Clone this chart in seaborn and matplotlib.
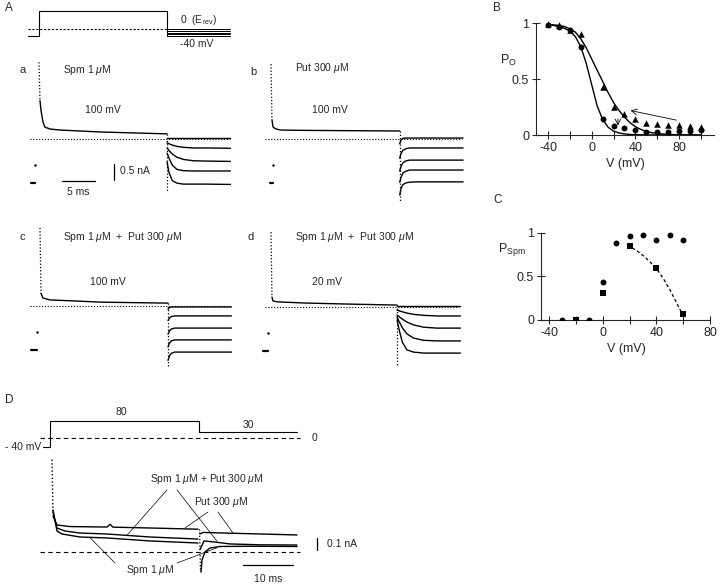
import numpy as np
import matplotlib
matplotlib.use('Agg')
import matplotlib.pyplot as plt
import seaborn as sns

W, H = 720, 587

# ---- B: open probability vs voltage (triangles / circles) and fitted curves
b_volt = [-40, -30, -20, -10, 10, 20, 30, 40, 50, 60, 70, 80, 90, 100]
b_tri = [0.99, 0.985, 0.94, 0.90, 0.43, 0.25, 0.185, 0.14, 0.11, 0.10, 0.085, 0.085, 0.08, 0.075]
b_circ = [0.985, 0.965, 0.935, 0.79, 0.14, 0.08, 0.065, 0.045, 0.03, 0.027, 0.027, 0.033, 0.04, 0.048]
fit_volt = [-40, -35, -30, -25, -20, -15, -10, -5, 0, 5, 10, 15, 20, 25, 30, 35, 40, 45, 50, 55, 60, 70, 80, 100]
fit_steep = [0.985, 0.98, 0.97, 0.955, 0.93, 0.88, 0.79, 0.64, 0.45, 0.26, 0.14, 0.07, 0.035, 0.018,
             0.01, 0.005, 0.003, 0.002, 0.001, 0, 0, 0, 0, 0]
fit_shallow = [0.99, 0.985, 0.98, 0.97, 0.95, 0.92, 0.86, 0.78, 0.68, 0.58, 0.48, 0.38, 0.29, 0.22,
               0.16, 0.11, 0.075, 0.05, 0.032, 0.02, 0.013, 0.005, 0.002, 0]

# ---- C: P_Spm vs voltage
c_circ_v = [-30, -10, 0, 10, 20, 30, 40, 50, 60]
c_circ = [0, 0, 0.44, 0.88, 0.96, 0.97, 0.92, 0.97, 0.92]
c_sq_v = [-20, 0, 20, 40, 60]
c_sq = [0, 0.31, 0.85, 0.60, 0.065]
c_fit_v = [22, 25, 30, 35, 40, 45, 50, 55, 60]
c_fit = [0.825, 0.80, 0.74, 0.67, 0.59, 0.48, 0.35, 0.20, 0.05]

# ---- A protocol (ms, mV)
prot_t = [-1.7, 0, 0, 19.4, 19.4]
prot_v = [-40, -40, 100, 100, 0]
tail_volts = [0, -10, -20, -30, -40]

# ---- A traces (ms, nA); tails start at the end of the step
tail_t_slow = [0, 0.3, 0.8, 1.5, 2.5, 4, 6, 9.6]
tail_t_fast = [0, 0.2, 0.5, 1.0, 1.5, 2.5, 4, 9.6]

a_step_t = [0.15, 0.3, 0.6, 0.9, 1.7, 3.2, 9.2, 19.4]
a_step_i = [1.2, 0.9, 0.53, 0.37, 0.31, 0.28, 0.22, 0.16]
a_tails = [[0.03, 0.03, 0.03, 0.03, 0.03, 0.03, 0.03, 0.03],
           [-0.12, -0.15, -0.19, -0.23, -0.26, -0.28, -0.28, -0.29],
           [-0.28, -0.36, -0.47, -0.57, -0.64, -0.68, -0.69, -0.70],
           [-0.44, -0.60, -0.82, -0.95, -0.99, -1.00, -1.00, -1.00],
           [-0.72, -1.05, -1.30, -1.38, -1.41, -1.41, -1.41, -1.42]]

b_step_t = [0.15, 0.3, 0.6, 1.0, 1.5, 5, 12, 19.5]
b_step_i = [0.6, 0.38, 0.33, 0.30, 0.28, 0.27, 0.26, 0.25]
b_tails = [[-0.15, -0.03, 0.02, 0.03, 0.03, 0.03, 0.03, 0.03],
           [-0.60, -0.45, -0.35, -0.30, -0.28, -0.28, -0.28, -0.28],
           [-1.00, -0.85, -0.74, -0.68, -0.66, -0.66, -0.66, -0.66],
           [-1.35, -1.20, -1.06, -1.00, -0.97, -0.97, -0.97, -0.97],
           [-1.75, -1.55, -1.42, -1.37, -1.35, -1.34, -1.34, -1.34]]

c_step_t = [0.15, 0.45, 1.5, 5, 9.2, 19.4]
c_step_i = [0.4, 0.25, 0.19, 0.16, 0.12, 0.09]
c_tails = [[-0.10, -0.05, -0.03, -0.03, -0.03, -0.03, -0.03, -0.03],
           [-0.45, -0.38, -0.33, -0.31, -0.31, -0.31, -0.31, -0.31],
           [-0.88, -0.78, -0.72, -0.69, -0.69, -0.69, -0.69, -0.69],
           [-1.28, -1.16, -1.09, -1.06, -1.06, -1.06, -1.06, -1.06],
           [-1.70, -1.56, -1.48, -1.44, -1.44, -1.44, -1.44, -1.44]]

d_step_t = [0.15, 0.3, 1.0, 5, 12, 19.1]
d_step_i = [0.31, 0.19, 0.16, 0.125, 0.09, 0.06]
d_tails = [[0.02, 0.02, 0.02, 0.02, 0.02, 0.02, 0.02, 0.02],
           [-0.10, -0.12, -0.15, -0.19, -0.23, -0.26, -0.28, -0.28],
           [-0.25, -0.30, -0.38, -0.47, -0.56, -0.63, -0.66, -0.66],
           [-0.31, -0.45, -0.65, -0.84, -0.97, -1.04, -1.06, -1.06],
           [-0.40, -0.70, -1.10, -1.34, -1.41, -1.44, -1.44, -1.44]]

# ---- D protocol and currents
dprot_t = [-1.4, 0, 0, 29.8, 29.8, 49.4]
dprot_v = [-40, -40, 80, 80, 30, 30]

put_t = [0.6, 1.4, 4, 11.4, 12.0, 12.6, 20, 29.6]
put_i = [0.30, 0.225, 0.212, 0.208, 0.23, 0.207, 0.20, 0.19]
put_tail_t = [30, 30.6, 35, 49.4]
put_tail_i = [0.15, 0.163, 0.158, 0.142]

mix_t = [0.6, 1.4, 3, 6, 11.4, 20, 29.6]
mix_i = [0.33, 0.20, 0.175, 0.158, 0.15, 0.125, 0.108]
mix_tail_t = [30, 30.8, 33, 36, 42, 49.4]
mix_tail_i = [0.02, 0.092, 0.083, 0.067, 0.06, 0.058]

spm_t = [0.6, 1.4, 2.4, 6, 11.4, 20, 29.6]
spm_i = [0.35, 0.175, 0.15, 0.125, 0.117, 0.092, 0.075]
spm_tail_t = [30.2, 30.4, 31, 32, 34, 40, 49.4]
spm_tail_i = [-0.167, -0.067, 0, 0.033, 0.046, 0.048, 0.046]

sns.set_style('ticks')
plt.rcParams['font.family'] = ['Liberation Sans', 'DejaVu Sans']
plt.rcParams['mathtext.fontset'] = 'custom'
plt.rcParams['mathtext.rm'] = 'Liberation Sans'
plt.rcParams['mathtext.it'] = 'Liberation Sans:italic'
plt.rcParams['mathtext.bf'] = 'Liberation Sans:bold'

fig = plt.figure(figsize=(7.2, 5.87), dpi=100)
DOT = (0, (1, 1.6))
LW = 1.0


def px_axes(x0, x1, y0, y1, ox, oy, sx, sy):
    # axes placed by pixel box; data units via origin (ox, oy) and px per unit
    ax = fig.add_axes([x0 / W, 1 - y1 / H, (x1 - x0) / W, (y1 - y0) / H])
    ax.set_xlim((x0 - ox) / sx, (x1 - ox) / sx)
    ax.set_ylim((oy - y1) / sy, (oy - y0) / sy)
    ax.axis('off')
    return ax


# overlay for panel letters and labels
ov = fig.add_axes([0, 0, 1, 1])
ov.set_xlim(0, W)
ov.set_ylim(H, 0)
ov.axis('off')
fs = 7.5
labels = [('A', 5, 8, 8.5), ('B', 493, 8, 8.5), ('C', 493, 200, 8.5), ('D', 5, 400, 8.5),
          ('a', 20, 70, 8), ('b', 250, 72, 8), ('c', 20, 237, 8), ('d', 248, 237, 8),
          ('0  (E$_{\\rm rev}$)', 180, 20, fs), ('-40 mV', 180, 44, fs),
          ('Spm 1 $\\mu$M', 63, 70, fs), ('100 mV', 85, 110, fs),
          ('Put 300 $\\mu$M', 295, 68, fs), ('100 mV', 312, 110, fs),
          ('Spm 1 $\\mu$M  +  Put 300 $\\mu$M', 63, 237, fs), ('100 mV', 90, 282, fs),
          ('Spm 1 $\\mu$M  +  Put 300 $\\mu$M', 295, 237, fs), ('20 mV', 312, 282, fs),
          ('P$_{\\rm O}$', 500, 60, 9), ('P$_{\\rm Spm}$', 498, 249, 9)]
for txt, x, y, s in labels:
    ov.text(x, y, txt, fontsize=s, ha='left', va='center')

# ---- A protocol
axp = px_axes(20, 245, 3, 45, 39, 29, 6.6, 0.178)
axp.plot(prot_t, prot_v, color='k', lw=0.8)
axp.plot([-1.7, 19.4], [0, 0], color='k', lw=0.8, ls=(0, (2, 1.5)))
axp.plot([19.4, 19.4], [0, -40], color='k', lw=0.8)
for v in tail_volts:
    axp.plot([19.4, 29], [v, v], color='k', lw=0.7)


def draw_panel(ax, peak, step_t, step_i, tail_t, tails, tail_low, base_x, mark_x):
    t_end = step_t[-1]
    ax.plot(base_x, [0, 0], color='k', lw=0.8, ls=DOT)
    ax.plot([0, step_t[0]], [peak, step_i[0]], color='k', lw=0.9, ls=DOT)
    ax.plot(step_t, step_i, color='k', lw=LW)
    ax.plot([t_end, t_end], [step_i[-1], tail_low], color='k', lw=0.9, ls=DOT)
    for tail in tails:
        ax.plot(t_end + np.array(tail_t), tail, color='k', lw=LW)
    ax.plot(mark_x, [-1.375, -1.375], color='k', lw=1.6)
    ax.plot([mark_x[1]], [-0.8], 'k.', ms=1.5)


ax_a = px_axes(20, 245, 55, 215, 39, 139, 6.6, 32)
draw_panel(ax_a, 2.4, a_step_t, a_step_i, tail_t_slow, a_tails, -1.66, [-1.36, 28.9], [-1.2, -0.6])
# scale bars
ax_a.plot([3.5, 8.5], [-1.31, -1.31], color='k', lw=0.9)
ax_a.text(6.0, -1.66, '5 ms', fontsize=fs, ha='center', va='center')
ax_a.plot([11.4, 11.4], [-0.78, -1.28], color='k', lw=0.9)
ax_a.text(12.3, -1.0, '0.5 nA', fontsize=fs, ha='left', va='center')

ax_b = px_axes(255, 480, 55, 215, 271, 139, 6.6, 32)
draw_panel(ax_b, 2.34, b_step_t, b_step_i, tail_t_fast, b_tails, -1.95, [-0.9, 29.0], [-0.15, 0.3])

ax_c = px_axes(20, 245, 222, 380, 40, 306, 6.6, 32)
draw_panel(ax_c, 2.44, c_step_t, c_step_i, tail_t_fast, c_tails, -1.9, [-1.5, 28.8], [-1.36, -0.45])

ax_d = px_axes(255, 480, 222, 380, 271, 307, 6.6, 32)
draw_panel(ax_d, 2.34, d_step_t, d_step_i, tail_t_slow, d_tails, -1.8, [-0.9, 28.5], [-1.2, -0.45])

# ---- B
axB = fig.add_axes([536 / W, 1 - 135 / H, (714 - 536) / W, 123 / H])
axB.set_xlim(-51, 112)
axB.set_ylim(0, 1.1)
sns.lineplot(x=fit_volt, y=fit_steep, ax=axB, color='k', lw=1.0, estimator=None, sort=False)
sns.lineplot(x=fit_volt, y=fit_shallow, ax=axB, color='k', lw=1.0, estimator=None, sort=False)
sns.scatterplot(x=b_volt, y=b_tri, ax=axB, marker='^', color='k', s=22, linewidth=0, zorder=3)
sns.scatterplot(x=b_volt, y=b_circ, ax=axB, marker='o', color='k', s=18, linewidth=0, zorder=3)
axB.annotate('', xy=(33, 0.224), xytext=(80, 0.128),
             arrowprops=dict(arrowstyle='->', lw=0.6, color='k'))
axB.annotate('', xy=(24, 0.06), xytext=(24, 0.17),
             arrowprops=dict(arrowstyle='->', lw=0.6, color='k'))

# ---- C
axC = fig.add_axes([541 / W, 1 - 320 / H, (712 - 541) / W, 96 / H])
axC.set_xlim(-46, 81.5)
axC.set_ylim(0, 1.1)
sns.lineplot(x=c_fit_v, y=c_fit, ax=axC, color='k', lw=0.9, ls=(0, (2.5, 2)), estimator=None, sort=False)
sns.scatterplot(x=c_circ_v, y=c_circ, ax=axC, marker='o', color='k', s=18, linewidth=0, zorder=3)
sns.scatterplot(x=c_sq_v, y=c_sq, ax=axC, marker='s', color='k', s=16, linewidth=0, zorder=3)

for ax, xt, xend in [(axB, [-40, -20, 0, 20, 40, 60, 80, 100], 112), (axC, [-40, -20, 0, 20, 40, 60, 80], 80)]:
    sns.despine(ax=ax)
    ax.spines['left'].set_bounds(0, 1)
    ax.spines['bottom'].set_bounds(ax.get_xlim()[0], xend)
    for sp in ('left', 'bottom'):
        ax.spines[sp].set_linewidth(0.8)
    ax.set_xticks(xt)
    ax.set_xticklabels([str(v) if v in (-40, 0, 40, 80) else '' for v in xt])
    ax.set_yticks([0, 0.5, 1])
    ax.set_yticklabels(['0', '0.5', '1'])
    ax.tick_params(direction='inout', length=6, width=0.8, labelsize=9, pad=2)
    ax.set_xlabel('V (mV)', fontsize=9, labelpad=3)
    ax.set_ylabel('')
    ax.set_facecolor('none')

# ---- D protocol
axdp = px_axes(0, 350, 400, 455, 50, 438, 5, 0.2125)
axdp.plot(dprot_t, dprot_v, color='k', lw=0.8)
axdp.plot([-2, 50], [0, 0], color='k', lw=0.8, ls=(0, (4, 3)))
axdp.text(14.2, 122, '80', fontsize=fs, ha='center', va='center')
axdp.text(39.6, 61, '30', fontsize=fs, ha='center', va='center')
axdp.text(52.4, 0, '0', fontsize=fs, ha='left', va='center')
axdp.text(-1.8, -40, '- 40 mV', fontsize=fs, ha='right', va='center')

# ---- D currents
axdc = px_axes(0, 350, 455, 590, 50, 552, 5, 120)
axdc.plot([-2, 50], [0, 0], color='k', lw=0.8, ls=(0, (4, 3)))
axdc.plot([0.4, 0.6], [0.77, 0.33], color='k', lw=1.0, ls=DOT)
for tt, ii in [(put_t, put_i), (mix_t, mix_i), (spm_t, spm_i),
               (put_tail_t, put_tail_i), (mix_tail_t, mix_tail_i), (spm_tail_t, spm_tail_i)]:
    axdc.plot(tt, ii, color='k', lw=LW)
axdc.plot([29.9, 30.1], [0.19, -0.167], color='k', lw=0.9, ls=DOT)

lead = dict(arrowstyle='-', lw=0.5, color='k', shrinkA=0, shrinkB=0)
axdc.text(31.4, 0.608, 'Spm 1 $\\mu$M + Put 300 $\\mu$M', fontsize=fs, ha='center', va='center')
axdc.annotate('', xy=(15.4, 0.14), xytext=(23.4, 0.517), arrowprops=lead)
axdc.annotate('', xy=(33.4, 0.09), xytext=(25.4, 0.517), arrowprops=lead)
axdc.text(34.2, 0.417, 'Put 300 $\\mu$M', fontsize=fs, ha='center', va='center')
axdc.annotate('', xy=(27, 0.2), xytext=(31.6, 0.333), arrowprops=lead)
axdc.annotate('', xy=(36.6, 0.158), xytext=(33.6, 0.333), arrowprops=lead)
axdc.text(20, -0.15, 'Spm 1 $\\mu$M', fontsize=fs, ha='center', va='center')
axdc.annotate('', xy=(8, 0.12), xytext=(13, -0.092), arrowprops=lead)
axdc.annotate('', xy=(33.4, 0.035), xytext=(25.4, -0.092), arrowprops=lead)
# scale bars
axdc.plot([53.4, 53.4], [0.117, 0.017], color='k', lw=0.9)
axdc.text(55.4, 0.067, '0.1 nA', fontsize=fs, ha='left', va='center')
axdc.plot([38.6, 48.6], [-0.108, -0.108], color='k', lw=0.9)
axdc.text(43.6, -0.225, '10 ms', fontsize=fs, ha='center', va='center')

fig.savefig('out.png', dpi=100)
